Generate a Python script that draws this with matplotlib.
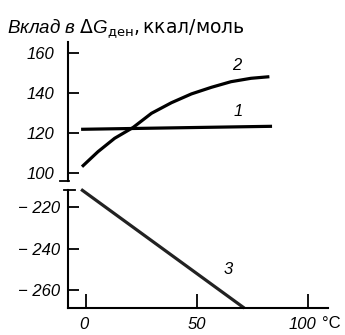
import matplotlib
matplotlib.use("Agg")
import matplotlib.pyplot as plt
from matplotlib.lines import Line2D
from matplotlib.transforms import ScaledTranslation

plt.rcParams["mathtext.fontset"] = "custom"
plt.rcParams["mathtext.it"] = "Liberation Sans:italic"
plt.rcParams["mathtext.rm"] = "DejaVu Sans"
plt.rcParams["mathtext.sf"] = "DejaVu Sans"

# ---- data ----
t1 = [-2.0, 84.0]
v1 = [122.0, 123.5]

t2 = [-1.6, 5.6, 13.1, 21.4, 29.7, 38.7, 47.7, 56.7, 65.5, 74.5, 82.8]
v2 = [103.3, 110.8, 117.5, 122.9, 130.0, 135.3, 139.7, 143.0, 145.8, 147.5, 148.3]

t3 = [-2.0, 71.5]
v3 = [-211.5, -268.7]

xticks = [0, 50, 100]
xticklabels = ["0", "50", "100"]
top_yticks = [100, 120, 140, 160]
top_ylabels = ["100", "120", "140", "160"]
bot_yticks = [-260, -240, -220]
bot_ylabels = ["\u2212 260", "\u2212 240", "\u2212 220"]

W, H = 345, 335
fig = plt.figure(figsize=(W / 100, H / 100), dpi=100)
FONT = ["Liberation Sans", "DejaVu Sans"]

def fx(px):
    return px / W

def fy(py):
    return 1 - py / H

left = fx(68)
width = 260 / W
ax_top = fig.add_axes([left, fy(181), width, 139 / H])
ax_bot = fig.add_axes([left, fy(308.3), width, 118.3 / H])

lw_curve = 2.3
kw = dict(lw=lw_curve, solid_capstyle="butt", solid_joinstyle="round")
ax_top.plot(t1, v1, color="black", **kw)
ax_top.plot(t2, v2, color="black", **kw)
ax_bot.plot(t3, v3, color="#222222", clip_on=False, **kw)

for ax in (ax_top, ax_bot):
    ax.set_xlim(-7.9, 109.2)
    ax.set_facecolor("none")
    for s in ("top", "right"):
        ax.spines[s].set_visible(False)
    ax.spines["left"].set_linewidth(1.5)
    ax.spines["bottom"].set_linewidth(1.5)

ax_top.set_ylim(96.15, 165.65)
ax_bot.set_ylim(-268.8, -211.8)
ax_top.spines["bottom"].set_visible(False)
ax_top.set_xticks([])

ax_top.set_yticks(top_yticks)
ax_top.set_yticklabels(top_ylabels, family=FONT, style="italic", fontsize=12)
ax_top.tick_params(axis="y", direction="in", length=8, width=1.3, pad=10)

ax_bot.set_yticks(bot_yticks)
ax_bot.set_yticklabels(bot_ylabels, family=FONT, style="italic", fontsize=12)
ax_bot.tick_params(axis="y", direction="in", length=8, width=1.3, pad=6)

ax_bot.set_xticks(xticks)
ax_bot.set_xticklabels(xticklabels, family=FONT, style="italic", fontsize=12)
ax_bot.tick_params(axis="x", direction="in", length=10, width=1.3, pad=6)
lbls = ax_bot.get_xticklabels()
shifts = [-1.5, 0.5, -5]
for lab, dx in zip(lbls, shifts):
    lab.set_transform(lab.get_transform() + ScaledTranslation(dx / 100, 0, fig.dpi_scale_trans))

# break marks
fig.add_artist(Line2D([fx(60), fx(68.5)], [fy(181), fy(181)], color="black", lw=1.3))
fig.add_artist(Line2D([fx(64), fx(75)], [fy(190), fy(190)], color="black", lw=1.3))

# unit on x axis
fig.text(fx(322), fy(323), "\u00b0C", family=FONT, fontsize=12, ha="left", va="center")

# curve labels
fig.text(fx(237), fy(65), "2", family=FONT, style="italic", fontsize=12, ha="center", va="center")
fig.text(fx(238), fy(111), "1", family=FONT, style="italic", fontsize=12, ha="center", va="center")
fig.text(fx(228), fy(269), "3", family=FONT, style="italic", fontsize=12, ha="center", va="center")

# title (single text, subscript via mathtext)
title = r"$\mathit{Вклад\ в\ \Delta G}_{\mathrm{ден}}\mathrm{,ккал/моль}$"
fig.text(fx(7), fy(33), title, fontsize=13.5, ha="left", va="baseline")

fig.savefig("out.png", dpi=100)
